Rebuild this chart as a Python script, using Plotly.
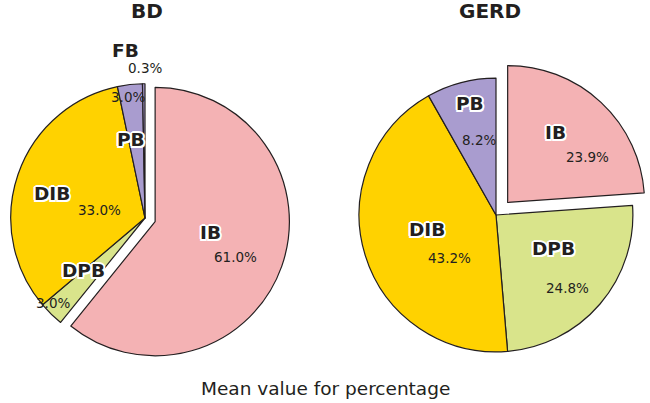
import plotly.graph_objects as go

# ---- data ----
bd_labels = ["IB", "DPB", "DIB", "PB", "FB"]
bd_values = [61.0, 3.0, 33.0, 3.0, 0.3]
gerd_labels = ["IB", "DPB", "DIB", "PB"]
gerd_values = [23.9, 24.8, 43.2, 8.2]
titles = ["BD", "GERD"]
axis_title = "Mean value for percentage"

colors = {"IB": "#F4B2B4", "DPB": "#D9E48B", "DIB": "#FFD200", "PB": "#A99CCF", "FB": "#A99CCF"}
edge = "#231F20"

W, H = 650, 403

def px(x):
    return x / W

def py(y):
    return 1 - y / H

fig = go.Figure()

fig.add_trace(go.Pie(
    labels=bd_labels, values=bd_values, sort=False, direction="clockwise",
    pull=[0.08, 0, 0, 0, 0], textinfo="none", hoverinfo="skip",
    marker=dict(colors=[colors[l] for l in bd_labels], line=dict(color=edge, width=1.2)),
    domain=dict(x=[0, px(290)], y=[py(364), py(72)]), showlegend=False,
))
fig.add_trace(go.Pie(
    labels=gerd_labels, values=gerd_values, sort=False, direction="clockwise",
    pull=[0.125, 0, 0, 0], textinfo="none", hoverinfo="skip",
    marker=dict(colors=[colors[l] for l in gerd_labels], line=dict(color=edge, width=1.2)),
    domain=dict(x=[px(342), 1], y=[py(369), py(61)]), showlegend=False,
))

outline = ("white 2px 0px 0px, white -2px 0px 0px, white 0px 2px 0px, white 0px -2px 0px, "
           "white 1.5px 1.5px 0px, white -1.5px -1.5px 0px, white 1.5px -1.5px 0px, white -1.5px 1.5px 0px")
bold = dict(family="DejaVu Sans, Arial, sans-serif", size=18.5, color="#231F20", weight="bold", shadow=outline)
reg = dict(family="DejaVu Sans, Arial, sans-serif", size=13.5, color="#231F20")

name_pos = {
    "BD": [("FB", 125, 50), ("PB", 131, 140), ("DIB", 52, 193), ("DPB", 83, 270), ("IB", 210, 232)],
    "GERD": [("PB", 470, 103), ("IB", 555, 132), ("DIB", 427, 230), ("DPB", 553, 248)],
}
pct_pos = {
    "BD": [("FB", 145, 68), ("PB", 128, 97), ("DIB", 99, 210), ("DPB", 53, 303), ("IB", 235, 257)],
    "GERD": [("PB", 479, 140), ("IB", 587, 157), ("DIB", 449, 258), ("DPB", 567, 288)],
}
vals = {"BD": dict(zip(bd_labels, bd_values)), "GERD": dict(zip(gerd_labels, gerd_values))}

ann = []
for g in titles:
    for lab, x, y in name_pos[g]:
        ann.append(dict(text=lab, x=px(x), y=py(y), xref="paper", yref="paper",
                        showarrow=False, font=bold, xanchor="center", yanchor="middle"))
    for lab, x, y in pct_pos[g]:
        ann.append(dict(text=f"{vals[g][lab]:.1f}%", x=px(x), y=py(y), xref="paper", yref="paper",
                        showarrow=False, font=reg, xanchor="center", yanchor="middle"))

title_font = dict(family="DejaVu Sans, Arial, sans-serif", size=20, color="#231F20", weight="bold")
ann.append(dict(text=titles[0], x=px(147), y=py(11), xref="paper", yref="paper", showarrow=False,
                font=title_font, xanchor="center", yanchor="middle"))
ann.append(dict(text=titles[1], x=px(490), y=py(11), xref="paper", yref="paper", showarrow=False,
                font=title_font, xanchor="center", yanchor="middle"))
ann.append(dict(text=axis_title, x=px(325), y=py(388), xref="paper", yref="paper", showarrow=False,
                font=dict(family="DejaVu Sans, Arial, sans-serif", size=18.5, color="#231F20"),
                xanchor="center", yanchor="middle"))

fig.update_layout(width=W, height=H, margin=dict(l=0, r=0, t=0, b=0),
                  paper_bgcolor="white", plot_bgcolor="white", annotations=ann)

fig.write_html("out.html", config={"displayModeBar": False},
               post_script="document.body.style.margin='0px';")
